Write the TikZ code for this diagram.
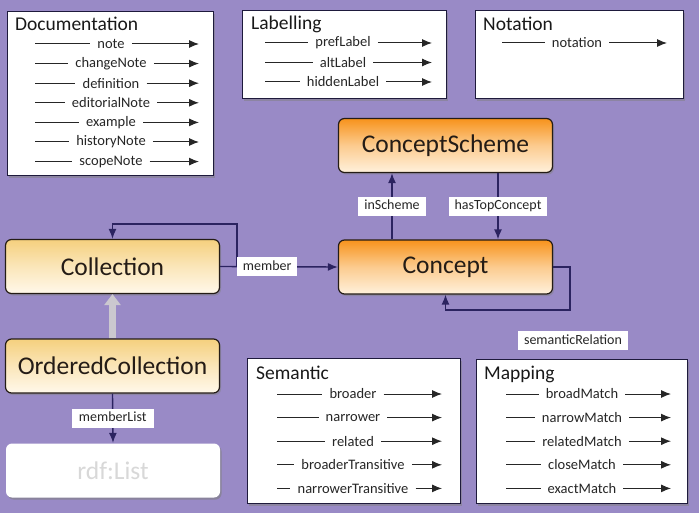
\documentclass[tikz,border=0pt]{standalone}
\usepackage{fontspec}
\setmainfont{Carlito}
\usepackage{xcolor}
\usetikzlibrary{arrows.meta, positioning, shadows}
\definecolor{bgpurple}{HTML}{998AC6}
\definecolor{framenavy}{HTML}{1E1A3C}
\definecolor{relnavy}{HTML}{2B2360}
\definecolor{orangetop}{HTML}{F7931C}
\definecolor{orangebot}{HTML}{FFF1DC}
\definecolor{yellowtop}{HTML}{F5D07E}
\definecolor{yellowbot}{HTML}{FFF8EA}
\definecolor{inktext}{HTML}{241C16}
\definecolor{listgray}{HTML}{D8D8D8}
\definecolor{gengray}{HTML}{CBC8CF}

\tikzset{
  panel/.style={draw=framenavy, line width=1.4pt, fill=white, anchor=north west, inner sep=0pt,
    drop shadow={opacity=0.5, shadow xshift=1.5pt, shadow yshift=-2pt}},
  paneltitle/.style={anchor=west, inner sep=0pt, text=black!90, font=\fontsize{19.5}{22}\selectfont},
  rowtext/.style={inner xsep=7pt, inner ysep=0pt, text=black!85, font=\fontsize{14.5}{16}\selectfont},
  rowline/.style={black!85, line width=1pt},
  rowarrow/.style={rowline, -{Latex[length=10pt,width=8pt]}},
  classbox/.style={draw=inktext, line width=1.2pt, rounded corners=6pt, minimum width=214pt,
    minimum height=54pt, text=inktext, font=\fontsize{25.5}{28}\selectfont,
    drop shadow={opacity=0.45, shadow xshift=1.5pt, shadow yshift=-2pt}},
  orangebox/.style={classbox, top color=orangetop, bottom color=orangebot, middle color=orangetop!40!orangebot},
  yellowbox/.style={classbox, top color=yellowtop, bottom color=yellowbot, middle color=yellowtop!45!yellowbot},
  rel/.style={relnavy, line width=1.4pt, -{Latex[length=10pt,width=8pt]}},
  lbl/.style={fill=white, inner xsep=6pt, inner ysep=3pt, text height=10pt, text depth=3pt,
    text=black!85, font=\fontsize{14}{16}\selectfont},
  genarrow/.style={gengray, line width=7pt, -{Triangle[length=11pt,width=16pt]}}
}

\begin{document}
\begin{tikzpicture}[x=1pt, y=-1pt]
  \useasboundingbox (0,0) rectangle (699,513);
  \fill[bgpurple] (0,0) rectangle (699,513);

  % property panels
  \node[panel, minimum width=206pt, minimum height=164pt] (docbox) at (7,11) {};
  \node[panel, minimum width=204pt, minimum height=88pt] (lblbox) at (242,10) {};
  \node[panel, minimum width=208pt, minimum height=88pt] (notbox) at (475,10) {};
  \node[panel, minimum width=213pt, minimum height=145pt] (sembox) at (247,358) {};
  \node[panel, minimum width=211pt, minimum height=144pt] (mapbox) at (476,359) {};

  \node[paneltitle] (doctitle) at (15,24) {Documentation};
  \node[paneltitle] (lbltitle) at (251,24) {Labelling};
  \node[paneltitle] (nottitle) at (483,24) {Notation};
  \node[paneltitle] (semtitle) at (256,373) {Semantic};
  \node[paneltitle] (maptitle) at (484,374) {Mapping};

  \foreach \lbl [count=\i] in {note, changeNote, definition, editorialNote, example, historyNote, scopeNote} {
    \node[rowtext] (doc\i) at (111,{44+19.6*(\i-1)}) {\lbl};
    \coordinate (docL\i) at (35,{44+19.6*(\i-1)});
    \coordinate (docR\i) at (199,{44+19.6*(\i-1)});
    \draw[rowline] (docL\i) -- (doc\i);
    \draw[rowarrow] (doc\i) -- (docR\i);
  }
  \foreach \lbl [count=\i] in {prefLabel, altLabel, hiddenLabel} {
    \node[rowtext] (lab\i) at (343,{43+19.5*(\i-1)}) {\lbl};
    \coordinate (labL\i) at (265,{43+19.5*(\i-1)});
    \coordinate (labR\i) at (432,{43+19.5*(\i-1)});
    \draw[rowline] (labL\i) -- (lab\i);
    \draw[rowarrow] (lab\i) -- (labR\i);
  }
  \node[rowtext] (not1) at (577,43) {notation};
  \coordinate (notL1) at (502,43);
  \coordinate (notR1) at (667,43);
  \draw[rowline] (notL1) -- (not1);
  \draw[rowarrow] (not1) -- (notR1);
  \foreach \lbl [count=\i] in {broader, narrower, related, broaderTransitive, narrowerTransitive} {
    \node[rowtext] (sem\i) at (353,{394+23.6*(\i-1)}) {\lbl};
    \coordinate (semL\i) at (277,{394+23.6*(\i-1)});
    \coordinate (semR\i) at (442,{394+23.6*(\i-1)});
    \draw[rowline] (semL\i) -- (sem\i);
    \draw[rowarrow] (sem\i) -- (semR\i);
  }
  \foreach \lbl [count=\i] in {broadMatch, narrowMatch, relatedMatch, closeMatch, exactMatch} {
    \node[rowtext] (map\i) at (582,{394+23.6*(\i-1)}) {\lbl};
    \coordinate (mapL\i) at (506,{394+23.6*(\i-1)});
    \coordinate (mapR\i) at (671,{394+23.6*(\i-1)});
    \draw[rowline] (mapL\i) -- (map\i);
    \draw[rowarrow] (map\i) -- (mapR\i);
  }

  % classes
  \node[orangebox] (scheme) at (445.5,145.5) {ConceptScheme};
  \node[orangebox] (concept) at (445.5,267) {Concept};
  \node[yellowbox] (coll) at (112.5,266.5) {Collection};
  \node[yellowbox] (ordcoll) at (112.5,366) {OrderedCollection};
  \node[classbox, draw=none, fill=white, text=listgray,
    drop shadow={opacity=0.25, shadow xshift=1.5pt, shadow yshift=-2pt}] (rdflist) at (113,470.5) {rdf:List};

  % relations
  \draw[rel] ([xshift=-53.5pt]concept.north) -- node[lbl] (inschemelbl) {inScheme} ([xshift=-53.5pt]scheme.south);
  \draw[rel] ([xshift=52.5pt]scheme.south) -- node[lbl] (topconceptlbl) {hasTopConcept} ([xshift=52.5pt]concept.north);
  \coordinate (collloop) at (237,224);
  \draw[rel] (coll.east) -| (collloop) -| (coll.north);
  \draw[rel] (coll.east) -- node[lbl, pos=0.4] (memberlbl) {member} (concept.west);
  \coordinate (conceptloop) at (570,310);
  \draw[rel] (concept.east) -| (conceptloop) -| (concept.south);
  \node[lbl] (semrellbl) at (573,340.5) {semanticRelation};
  \draw[genarrow] (ordcoll.north) -- (coll.south);
  \draw[rel] (ordcoll.south) -- node[lbl, inner xsep=7pt] (memberlistlbl) {memberList} (rdflist.north);
\end{tikzpicture}
\end{document}
